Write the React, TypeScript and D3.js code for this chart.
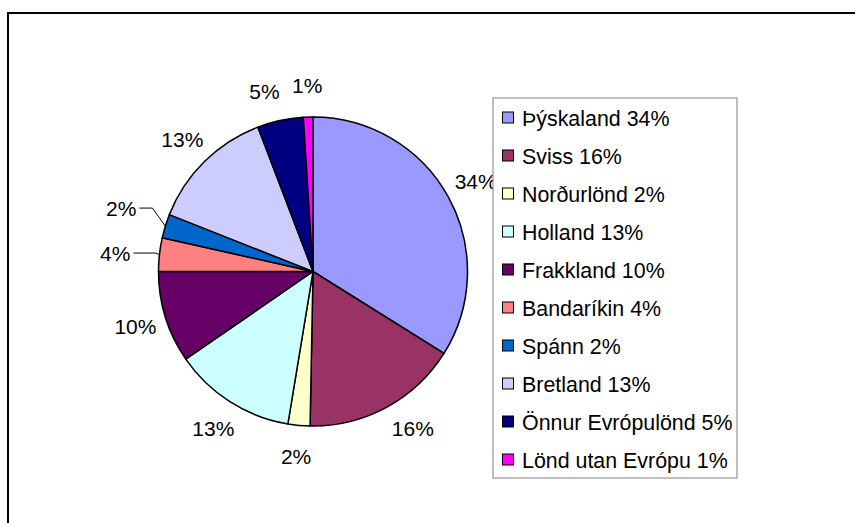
import React from "react";
import * as d3 from "d3";

const categories = [
  "Þýskaland",
  "Sviss",
  "Norðurlönd",
  "Holland",
  "Frakkland",
  "Bandaríkin",
  "Spánn",
  "Bretland",
  "Önnur Evrópulönd",
  "Lönd utan Evrópu",
];
const values = [33.9, 16.4, 2.3, 12.8, 9.6, 3.5, 2.5, 13.2, 4.8, 1.0];
const percentLabels = ["34%", "16%", "2%", "13%", "10%", "4%", "2%", "13%", "5%", "1%"];
const colors = [
  "#9999FF",
  "#993366",
  "#FFFFCC",
  "#CCFFFF",
  "#660066",
  "#FF8080",
  "#0066CC",
  "#CCCCFF",
  "#000080",
  "#FF00FF",
];

const W = 855;
const H = 523;
const FONT = "'Liberation Sans', Arial, sans-serif";

export default function App() {
  const cx = 313;
  const cy = 271.5;
  const r = 154.5;
  const labelR = 186;

  const pie = d3
    .pie<number>()
    .sort(null)
    .value((d) => d)
    .startAngle(0)
    .endAngle(2 * Math.PI);
  const arcs = pie(values);
  const arc = d3.arc<d3.PieArcDatum<number>>().innerRadius(0).outerRadius(r);

  // labels moved aside with leader lines (index -> offset of label end from slice edge)
  const leaders: Record<number, { dx: number; dy: number; elbow: number }> = {
    5: { dx: -29, dy: -1.5, elbow: -4 },
    6: { dx: -29, dy: -18, elbow: -13 },
  };
  // small angular nudges (radians) that the original layout applied to avoid crowding
  const nudge: Record<number, number> = { 1: -0.07, 8: -0.05 };

  const legendX = 493;
  const legendY = 98;
  const legendW = 244;
  const legendH = 380;
  const rowStep = 38;
  const firstRow = 118;

  return (
    <svg
      width={W}
      height={H}
      style={{ position: "absolute", left: 0, top: 0, background: "#fff" }}
    >
      <rect x={0} y={0} width={W} height={H} fill="#fff" />
      <rect x={8} y={13} width={W + 20} height={H + 20} fill="none" stroke="#000" strokeWidth={2} />
      <g transform={`translate(${cx},${cy})`}>
        {arcs.map((a, i) => (
          <path key={i} d={arc(a) || ""} fill={colors[i]} stroke="#000" strokeWidth={1.5} strokeLinejoin="round" />
        ))}
      </g>
      {arcs.map((a, i) => {
        const mid = (a.startAngle + a.endAngle) / 2 + (nudge[i] || 0);
        const sx = Math.sin(mid);
        const sy = -Math.cos(mid);
        const lead = leaders[i];
        if (lead) {
          const ex = cx + r * sx;
          const ey = cy + r * sy;
          const lx = ex + lead.dx;
          const ly = ey + lead.dy;
          return (
            <g key={i}>
              <polyline
                points={`${ex},${ey} ${ex + lead.elbow},${ly} ${lx + 3},${ly}`}
                fill="none"
                stroke="#000"
                strokeWidth={1}
              />
              <text
                x={lx}
                y={ly}
                dy="0.36em"
                textAnchor="end"
                fontFamily={FONT}
                fontSize={21}
                fill="#000"
              >
                {percentLabels[i]}
              </text>
            </g>
          );
        }
        return (
          <text
            key={i}
            x={cx + labelR * sx}
            y={cy + labelR * sy}
            dy="0.36em"
            textAnchor="middle"
            fontFamily={FONT}
            fontSize={21}
            fill="#000"
          >
            {percentLabels[i]}
          </text>
        );
      })}
      <rect x={legendX} y={legendY} width={legendW} height={legendH} fill="#fff" stroke="#808080" strokeWidth={1} />
      {categories.map((c, i) => {
        const y = firstRow + i * rowStep;
        return (
          <g key={c}>
            <rect x={502.5} y={y - 6} width={11} height={11} fill={colors[i]} stroke="#000" strokeWidth={1} />
            <text x={522} y={y} dy="0.36em" fontFamily={FONT} fontSize={21.4} fill="#000">
              {`${c} ${percentLabels[i]}`}
            </text>
          </g>
        );
      })}
    </svg>
  );
}
